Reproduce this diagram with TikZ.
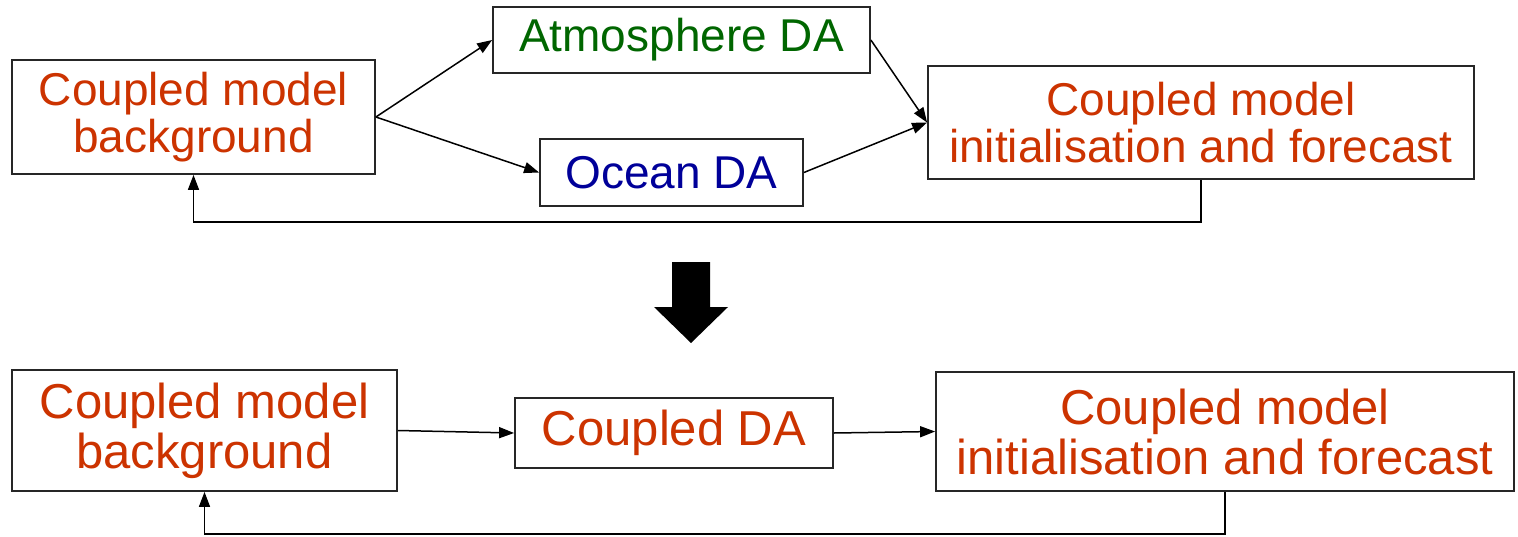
\documentclass[tikz,border=0pt]{standalone}
\usepackage{fontspec}
\setmainfont{Liberation Sans}
\usetikzlibrary{arrows.meta}
\definecolor{txtred}{RGB}{204,51,0}
\definecolor{txtgreen}{RGB}{0,102,0}
\definecolor{txtblue}{RGB}{0,0,153}
\tikzset{
  box/.style={draw=black!85, line width=1.8pt, inner sep=0pt, align=center, fill=white},
  topfont/.style={font=\fontsize{46}{47}\selectfont},
  botfont/.style={font=\fontsize{49}{50}\selectfont},
  conn/.style={line width=1.5pt, -{Triangle[length=15pt,width=11pt]}},
}
\begin{document}
\begin{tikzpicture}[x=1pt,y=-1pt]
\useasboundingbox (0,0) rectangle (1518,536);
% top row
\node[box, topfont, text=txtred, minimum width=363pt, minimum height=114pt] (A) at (193.5,117) {Coupled model\\background};
\node[box, topfont, text=txtgreen, minimum width=377pt, minimum height=66pt] (atm) at (681.5,40) {Atmosphere DA};
\node[box, topfont, text=txtblue, minimum width=263pt, minimum height=67pt] (oce) at (671.5,172.5) {Ocean DA};
\node[box, topfont, text=txtred, minimum width=546pt, minimum height=113pt] (C) at (1201,122.5) {Coupled model\\initialisation and forecast};
\draw[conn] (A.east) -- (atm.west);
\draw[conn] (A.east) -- (oce.west);
\draw[conn] (atm.east) -- (C.west);
\draw[conn] (oce.east) -- (C.west);
\draw[conn] (C.south) -- ++(0,42) -| (A.south);
% big arrow
\fill[black] (672,262) -- (710,262) -- (710,307) -- (728,307) -- (691,343) -- (654,307) -- (672,307) -- cycle;
% bottom row
\node[box, botfont, text=txtred, minimum width=385pt, minimum height=121pt] (D) at (204.5,430.5) {Coupled model\\background};
\node[box, botfont, text=txtred, minimum width=318pt, minimum height=70pt] (cda) at (674,433) {Coupled DA};
\node[box, botfont, text=txtred, minimum width=578pt, minimum height=119pt] (F) at (1225,431.5) {Coupled model\\initialisation and forecast};
\draw[conn] (D.east) -- (cda.west);
\draw[conn] (cda.east) -- (F.west);
\draw[conn] (F.south) -- ++(0,42) -| (D.south);
\end{tikzpicture}
\end{document}
